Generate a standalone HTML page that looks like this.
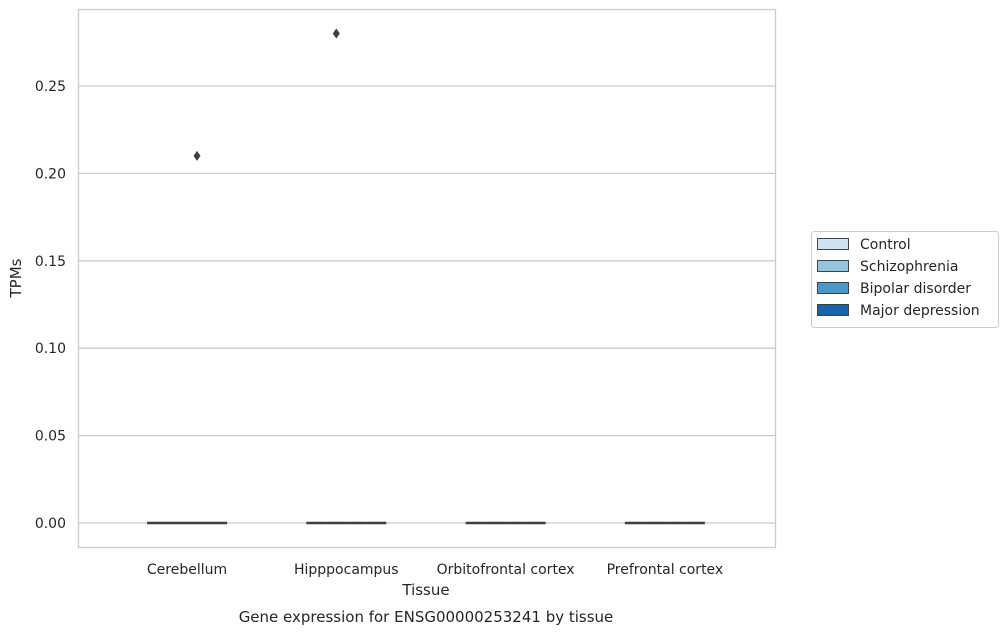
<!DOCTYPE html>
<html><head><meta charset="utf-8"><style>
body{margin:0;background:#fff;font-family:"Liberation Sans","DejaVu Sans",sans-serif}
svg text{font-family:"DejaVu Sans","Liberation Sans",sans-serif;fill:#262626}
</style></head><body>
<svg width="1007" height="634">
<g id="grid"></g>
<rect x="78.5" y="9.5" width="697" height="538" fill="none" stroke="#cccccc" stroke-width="1.3"/>
<g id="marks"></g>
<text x="426" y="595" font-size="15" text-anchor="middle">Tissue</text>
<text x="21" y="278" font-size="15" text-anchor="middle" transform="rotate(-90 21 278)">TPMs</text>
<text x="426" y="622" font-size="15" text-anchor="middle">Gene expression for ENSG00000253241 by tissue</text>
<g>
<rect x="811.5" y="231.5" width="187" height="96" rx="3" fill="#fff" stroke="#cccccc"/>
<g id="legend"></g>
</g>
</svg>
<script>
const categories=["Cerebellum","Hipppocampus","Orbitofrontal cortex","Prefrontal cortex"];
const hues=["Control","Schizophrenia","Bipolar disorder","Major depression"];
const colors=["#d0e1f2","#94c4df","#4a98c9","#1764ab"];
const medians=[[0,0,0,0],[0,0,0,0],[0,0,0,0],[0,0,0,0]];
const outlierCat=[0,1];
const outlierHue=[2,1];
const outlierVal=[0.21,0.28];
const yTicks=[0,0.05,0.10,0.15,0.20,0.25];
const ns="http://www.w3.org/2000/svg";
const y=v=>523-v*1748;
const xc=i=>187+i*159.3;
const hx=(i,h)=>xc(i)-40+h*20;
function mk(t,a,p){const e=document.createElementNS(ns,t);for(const k in a)e.setAttribute(k,a[k]);p.appendChild(e);return e;}
const grid=document.getElementById('grid'),marks=document.getElementById('marks'),leg=document.getElementById('legend');
yTicks.forEach(v=>{
 const l=mk('line',{x1:79,x2:775,y1:y(v),y2:y(v),stroke:'#cccccc','stroke-width':1.3},grid);
 
 
 const t=mk('text',{x:66,y:y(v)+5,'font-size':14,'text-anchor':'end'},grid);
 t.textContent=v.toFixed(2);
 
 
});
categories.forEach((c,i)=>{
 const t=mk('text',{x:xc(i),y:574,'font-size':14,'text-anchor':'middle'},grid);
 t.textContent=c;
 
 
 hues.forEach((h,j)=>{
  const l=mk('line',{x1:hx(i,j),x2:hx(i,j)+20,y1:y(medians[i][j]),y2:y(medians[i][j]),stroke:'#3f3f3f','stroke-width':2.5},marks);
  
  
 });
});
outlierVal.forEach((v,k)=>{
 const cx=hx(outlierCat[k],outlierHue[k])+10,cy=y(v);
 const p=mk('path',{d:`M${cx} ${cy-5}L${cx+3.5} ${cy}L${cx} ${cy+5}L${cx-3.5} ${cy}Z`,fill:'#3f3f3f'},marks);
 
 
});
hues.forEach((h,j)=>{
 const yy=244+j*22;
 const r=mk('rect',{x:817.5,y:yy-5.5,width:31,height:11,fill:colors[j],stroke:'#333','stroke-width':0.9},leg);
 
 
 const t=mk('text',{x:860,y:yy+5,'font-size':14},leg);
 t.textContent=h;
 
 
});
</script>
</body></html>
